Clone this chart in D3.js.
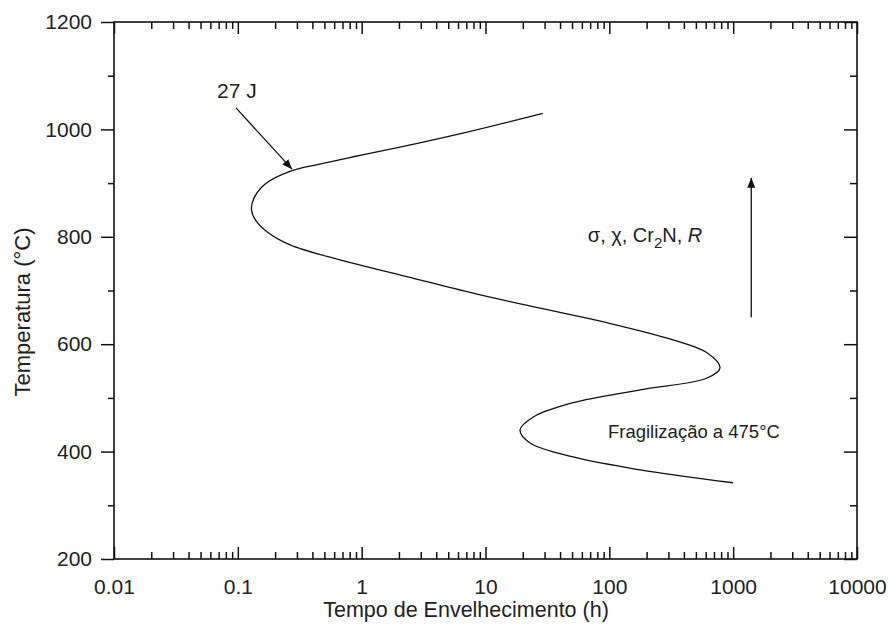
<!DOCTYPE html>
<html>
<head>
<meta charset="utf-8">
<script src="https://cdn.jsdelivr.net/npm/d3@7"></script>
<style>
  body { margin: 0; background: #fff; }
  text { font-family: "Liberation Sans", Arial, sans-serif; fill: #222; }
</style>
</head>
<body>
<script>
// C-curve: ageing time (h) vs temperature (°C)
const timeH = [29, 7.1, 2.04, 0.9, 0.45, 0.264, 0.17, 0.135, 0.129, 0.14, 0.175, 0.264, 0.668, 2.31, 7.93, 27.6, 95.7, 327, 615, 783, 615, 177, 50.9, 24.2, 19.0, 22.9, 50.9, 177, 998];
const tempC = [1030, 995, 967, 950, 935, 922, 900, 872, 850, 830, 808, 785, 757, 726, 695, 667, 640, 608, 584, 556, 537, 515, 491, 464, 440, 416, 390, 366, 342];

const xTicks = [0.01, 0.1, 1, 10, 100, 1000, 10000];
const xTickLabels = ["0.01", "0.1", "1", "10", "100", "1000", "10000"];
const yTicks = [200, 400, 600, 800, 1000, 1200];

// annotation arrows: [from, to] in data units
const arrow27J = [[0.0966, 1040], [0.274, 926]];
const arrowUp = [[1400, 650], [1400, 910]];

const width = 893, height = 628;
const margin = {left: 114, top: 22, right: 36, bottom: 69};
const w = width - margin.left - margin.right;
const h = height - margin.top - margin.bottom;

let svg = d3.select("body").append("svg")
    .attr("width", width)
    .attr("height", height);

let defs = svg.append("defs");
defs.append("marker")
    .attr("id", "head")
    .attr("viewBox", "0 0 10 10")
    .attr("refX", 10).attr("refY", 5)
    .attr("markerWidth", 10).attr("markerHeight", 10)
    .attr("markerUnits", "userSpaceOnUse")
    .attr("orient", "auto")
  .append("path")
    .attr("d", "M0,1 L10,5 L0,9 Z")
    .attr("fill", "#111");

let g = svg.append("g").attr("transform", "translate(" + margin.left + "," + margin.top + ")");

let x = d3.scaleLog().domain([0.01, 10000]).range([0, w]);
let y = d3.scaleLinear().domain([200, 1200]).range([h, 0]);

// minor ticks 2..9 in each decade
let minorX = [];
for (let d = 0.01; d < 10000; d *= 10) {
  for (let k = 2; k <= 9; k++) minorX.push(d * k);
}
let minorY = d3.range(300, 1200, 200);

function styleAxis(sel) {
  sel.select(".domain").remove();
  sel.selectAll("line").attr("stroke", "#111").attr("stroke-width", 1.5);
}

// bottom axis, ticks inward
g.append("g").attr("transform", "translate(0," + h + ")")
    .call(d3.axisBottom(x).tickValues(minorX).tickSize(-7).tickFormat(""))
    .call(styleAxis);
g.append("g").attr("transform", "translate(0," + h + ")")
    .call(d3.axisBottom(x).tickValues(xTicks).tickSize(-12).tickPadding(20)
      .tickFormat((d, i) => xTickLabels[i]))
    .call(styleAxis)
    .call(a => a.selectAll("text").attr("font-size", 21).attr("fill", "#222"));

// top axis, ticks inward
g.append("g")
    .call(d3.axisTop(x).tickValues(minorX).tickSize(-7).tickFormat(""))
    .call(styleAxis);
g.append("g")
    .call(d3.axisTop(x).tickValues(xTicks).tickSize(-12).tickFormat(""))
    .call(styleAxis);

// left axis, ticks outward
g.append("g")
    .call(d3.axisLeft(y).tickValues(minorY).tickSize(6).tickFormat(""))
    .call(styleAxis);
g.append("g")
    .call(d3.axisLeft(y).tickValues(yTicks).tickSize(13).tickPadding(9).tickFormat(d3.format("d")))
    .call(styleAxis)
    .call(a => a.selectAll("text").attr("font-size", 21).attr("fill", "#222"));

// right axis, ticks inward
g.append("g").attr("transform", "translate(" + w + ",0)")
    .call(d3.axisRight(y).tickValues(minorY).tickSize(-7).tickFormat(""))
    .call(styleAxis);
g.append("g").attr("transform", "translate(" + w + ",0)")
    .call(d3.axisRight(y).tickValues(yTicks).tickSize(-13).tickFormat(""))
    .call(styleAxis);

// frame
g.append("rect")
    .attr("width", w).attr("height", h)
    .attr("fill", "none").attr("stroke", "#111").attr("stroke-width", 1.6);

// the curve
let pts = timeH.map((t, i) => [t, tempC[i]]);
let line = d3.line()
    .x(d => x(d[0]))
    .y(d => y(d[1]))
    .curve(d3.curveCatmullRom.alpha(0.5));

g.append("path")
    .datum(pts)
    .attr("d", line)
    .attr("fill", "none")
    .attr("stroke", "#111")
    .attr("stroke-width", 1.3);

// arrows
[arrow27J, arrowUp].forEach(a => {
  g.append("line")
      .attr("x1", x(a[0][0])).attr("y1", y(a[0][1]))
      .attr("x2", x(a[1][0])).attr("y2", y(a[1][1]))
      .attr("stroke", "#111").attr("stroke-width", 1.3)
      .attr("marker-end", "url(#head)");
});

// annotations
g.append("text")
    .attr("x", x(0.068)).attr("y", y(1058))
    .attr("font-size", 21)
    .text("27 J");

let phases = g.append("text")
    .attr("x", x(67)).attr("y", y(790))
    .attr("font-size", 20);
phases.append("tspan").text("σ, χ, Cr");
phases.append("tspan").attr("font-size", 15).attr("dy", 6).text("2");
phases.append("tspan").attr("dy", -6).text("N, ");
phases.append("tspan").attr("font-style", "italic").text("R");

g.append("text")
    .attr("x", x(97.5)).attr("y", y(425))
    .attr("font-size", 18.5)
    .text("Fragilização a 475°C");

// axis titles
svg.append("text")
    .attr("x", 466).attr("y", 617)
    .attr("text-anchor", "middle")
    .attr("font-size", 21.5)
    .text("Tempo de Envelhecimento (h)");

svg.append("text")
    .attr("transform", "translate(30,312) rotate(-90)")
    .attr("text-anchor", "middle")
    .attr("font-size", 22)
    .text("Temperatura (°C)");
</script>
</body>
</html>
